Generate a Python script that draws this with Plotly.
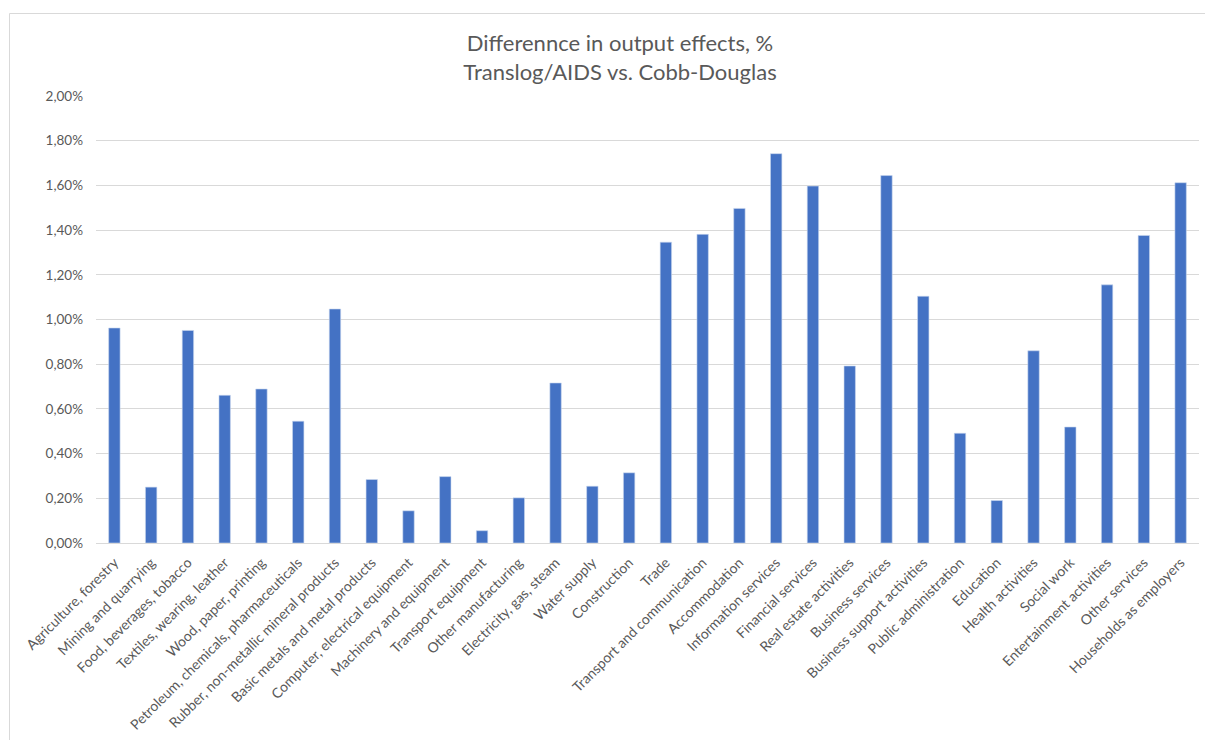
import plotly.graph_objects as go

# Industries shown on the category axis
sectors = [
    "Agriculture, forestry",
    "Mining and quarrying",
    "Food, beverages, tobacco",
    "Textiles, wearing, leather",
    "Wood, paper, printing",
    "Petroleum, chemicals, pharmaceuticals",
    "Rubber, non-metallic mineral products",
    "Basic metals and metal products",
    "Computer, electrical equipment",
    "Machinery and equipment",
    "Transport equipment",
    "Other manufacturing",
    "Electricity, gas, steam",
    "Water supply",
    "Construction",
    "Trade",
    "Transport and communication",
    "Accommodation",
    "Information services",
    "Financial services",
    "Real estate activities",
    "Business services",
    "Business support activities",
    "Public administration",
    "Education",
    "Health activities",
    "Social work",
    "Entertainment activities",
    "Other services",
    "Households as employers",
]

# Difference in output effects (Translog/AIDS minus Cobb-Douglas), in percent
output_diff_pct = [
    0.962, 0.250, 0.951, 0.661, 0.689, 0.545, 1.047, 0.284, 0.144, 0.297,
    0.055, 0.202, 0.716, 0.254, 0.314, 1.346, 1.381, 1.497, 1.742, 1.597,
    0.792, 1.644, 1.104, 0.491, 0.190, 0.860, 0.519, 1.155, 1.376, 1.612,
]

# Value-axis ticks and their labels (comma decimal separator)
y_ticks = [0.0, 0.2, 0.4, 0.6, 0.8, 1.0, 1.2, 1.4, 1.6, 1.8, 2.0]
y_tick_labels = ["0,00%", "0,20%", "0,40%", "0,60%", "0,80%", "1,00%",
                 "1,20%", "1,40%", "1,60%", "1,80%", "2,00%"]

W, H = 1205, 740
L, R, T, B = 96, 6, 96, 197
plot_w = W - L - R
plot_h = H - T - B

FONT = "Lato, Carlito, Calibri, sans-serif"
TXT = "#595959"
GRID = "#D9D9D9"

fig = go.Figure(
    go.Bar(
        x=sectors,
        y=output_diff_pct,
        width=0.31,
        marker=dict(color="#4472C4", line=dict(color="#C9D6EE", width=0.6)),
        hovertemplate="%{x}: %{y:.2f}%<extra></extra>",
    )
)

# Thin frame around the whole chart area
fig.add_shape(
    type="rect",
    xref="paper", yref="paper",
    x0=(9.5 - L) / plot_w, x1=(W + 20 - L) / plot_w,
    y0=-(B + 20) / plot_h, y1=(H - B - 13.5) / plot_h,
    line=dict(color=GRID, width=1),
    fillcolor="rgba(0,0,0,0)",
    layer="below",
)

fig.update_layout(
    width=W,
    height=H,
    margin=dict(l=L, r=R, t=T, b=B, pad=0),
    paper_bgcolor="white",
    plot_bgcolor="white",
    showlegend=False,
    bargap=0.69,
    font=dict(family=FONT, color=TXT, size=13),
    title=dict(
        text="Differennce in output effects, %<br>Translog/AIDS vs. Cobb-Douglas",
        x=620 / W,
        xanchor="center",
        xref="container",
        y=1 - 51 / H,
        yanchor="middle",
        yref="container",
        font=dict(family=FONT, size=22, color=TXT),
    ),
    xaxis=dict(
        type="category",
        tickangle=-45,
        showgrid=False,
        showline=True,
        linecolor=GRID,
        linewidth=1,
        ticks="",
        ticklabelstandoff=5,
        tickfont=dict(family=FONT, size=14, color=TXT),
        fixedrange=True,
    ),
    yaxis=dict(
        range=[0, 2.0],
        tickvals=y_ticks,
        ticktext=y_tick_labels,
        showgrid=True,
        gridcolor=GRID,
        gridwidth=1,
        zeroline=False,
        showline=False,
        ticks="",
        ticklabelstandoff=12,
        tickfont=dict(family=FONT, size=13.5, color=TXT),
        fixedrange=True,
    ),
)

fig.write_html("out.html")
